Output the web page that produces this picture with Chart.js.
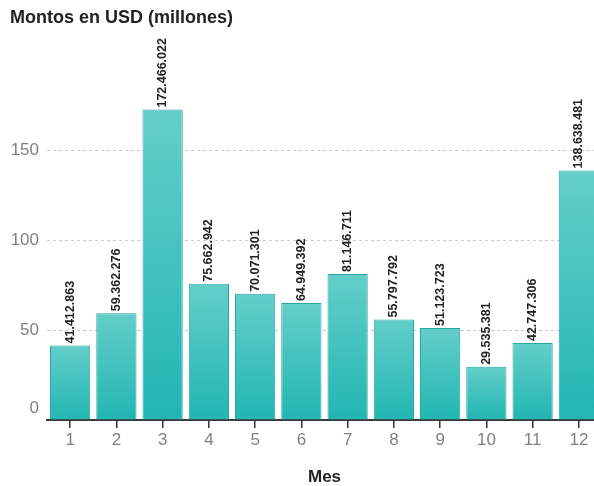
<!DOCTYPE html>
<html>
<head>
<meta charset="utf-8">
<script src="https://cdn.jsdelivr.net/npm/chart.js@4/dist/chart.umd.min.js"></script>
<style>
  html, body { margin: 0; padding: 0; background: #fff; overflow: hidden; }
  #wrap { position: relative; width: 602px; height: 486px; }
</style>
</head>
<body>
<div id="wrap"><canvas id="chart-montos"></canvas></div>
<script>
// Datos: montos mensuales en USD
const meses = ['1', '2', '3', '4', '5', '6', '7', '8', '9', '10', '11', '12'];
const montosUSD = [
  41412863, 59362276, 172466022, 75662942, 70071301, 64949392,
  81146711, 55797792, 51123723, 29535381, 42747306, 138638481
];
const yTicks = [0, 50, 100, 150];

const FONT = '"Liberation Sans", Arial, Helvetica, sans-serif';

// 41412863 -> "41.412.863"
function formatUSD(n) {
  return String(n).replace(/\B(?=(\d{3})+(?!\d))/g, '.');
}

const montosMillones = montosUSD.map(v => v / 1e6);

/**
 * Gradient per bar: light teal on top, darker at the base
 */
function barGradient(context) {
  const chart = context.chart;
  const y = chart.scales && chart.scales.y;
  if (!chart.chartArea || !y || context.raw === undefined) return 'rgb(60,192,188)';
  const top = y.getPixelForValue(context.raw);
  const bottom = y.getPixelForValue(0);
  const g = chart.ctx.createLinearGradient(0, top, 0, bottom);
  g.addColorStop(0, 'rgb(100,206,202)');
  g.addColorStop(1, 'rgb(33,182,177)');
  return g;
}

// Texts: title, y labels, axis name and value labels on the bars
const textPlugin = {
  id: 'textPlugin',
  afterDraw(chart) {
    const ctx = chart.ctx;
    const area = chart.chartArea;
    const y = chart.scales.y;
    ctx.save();

    // title
    ctx.fillStyle = '#222';
    ctx.font = 'bold 18px ' + FONT;
    ctx.textAlign = 'left';
    ctx.textBaseline = 'alphabetic';
    ctx.fillText('Montos en USD (millones)', 10, 23);

    // y tick labels (the 0 sits a little above the axis)
    ctx.fillStyle = '#808080';
    ctx.font = '17px ' + FONT;
    ctx.textAlign = 'right';
    ctx.textBaseline = 'middle';
    yTicks.forEach(t => {
      const py = y.getPixelForValue(t) - (t === 0 ? 12 : 0);
      ctx.fillText(String(t), 39, py);
    });

    // x axis name
    ctx.fillStyle = '#222';
    ctx.font = 'bold 17px ' + FONT;
    ctx.textAlign = 'center';
    ctx.textBaseline = 'middle';
    ctx.fillText('Mes', (area.left + area.right) / 2, 477);

    // value labels
    const meta = chart.getDatasetMeta(0);
    ctx.fillStyle = '#222';
    ctx.font = 'bold 12.5px ' + FONT;
    ctx.textAlign = 'left';
    ctx.textBaseline = 'middle';
    meta.data.forEach((bar, i) => {
      ctx.save();
      ctx.translate(bar.x, bar.y - 2);
      ctx.rotate(-Math.PI / 2);
      ctx.fillText(formatUSD(montosUSD[i]), 0, 0);
      ctx.restore();
    });

    ctx.restore();
  }
};

const ctx = document.getElementById('chart-montos').getContext('2d');

new Chart(ctx, {
  type: 'bar',
  data: {
    labels: meses,
    datasets: [{
      label: 'Montos en USD (millones)',
      data: montosMillones,
      backgroundColor: barGradient,
      borderColor: 'rgb(42,168,163)',
      borderWidth: 1,
      borderSkipped: 'bottom',
      categoryPercentage: 1,
      barPercentage: 0.87
    }]
  },
  options: {
    responsive: true,
    maintainAspectRatio: false,
    animation: false,
    layout: { padding: { top: 42, left: 0, right: 0, bottom: 0 } },
    plugins: {
      legend: { display: false },
      title: { display: false },
      tooltip: { enabled: false }
    },
    scales: {
      x: {
        afterFit(scale) { scale.height = 66; },
        grid: {
          offset: false,
          drawOnChartArea: false,
          drawTicks: true,
          tickLength: 8,
          color: '#333',
          lineWidth: 1.5
        },
        border: { display: true, color: '#3a3a3a', width: 2 },
        ticks: {
          color: '#808080',
          font: { family: FONT, size: 17 },
          padding: 2,
          maxRotation: 0
        }
      },
      y: {
        min: 0,
        max: 210,
        afterFit(scale) { scale.width = 47; },
        afterBuildTicks(scale) {
          scale.ticks = yTicks.map(v => ({ value: v }));
        },
        grid: {
          drawTicks: false,
          color: ctx => (ctx.tick && ctx.tick.value === 0) ? 'rgba(0,0,0,0)' : '#c8c8c8',
          lineWidth: 1
        },
        border: { display: false, dash: [3, 3] },
        ticks: { display: false }
      }
    }
  },
  plugins: [textPlugin]
});
</script>
</body>
</html>
